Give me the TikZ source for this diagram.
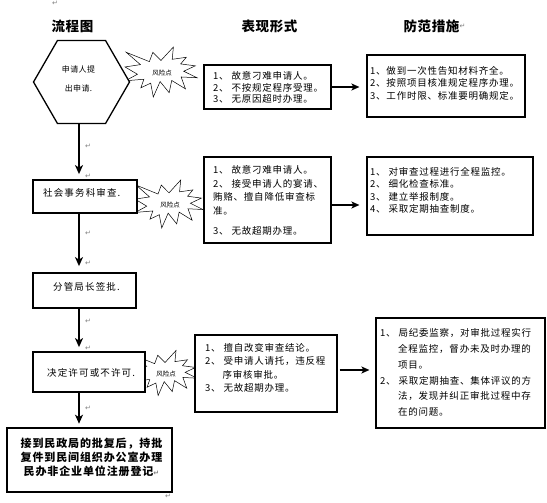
\documentclass[tikz,border=0pt]{standalone}
\usepackage{fontspec}
\newfontfamily\cjk{Noto Sans CJK SC}
\newfontfamily\symf{DejaVu Sans}
\usetikzlibrary{shapes.geometric,shadows,arrows.meta}
\newcommand\retm{{\symf\fontsize{7}{7}\selectfont\color{gray}↵}}
% explosion shape: name, cx, cy, w, h
\newcommand\boom[5]{%
  \begin{scope}[shift={(#2-#4/2,#3-#5/2)},x=#4/216*1pt,y=-#5/216*1pt]
  \draw[burstline] (108,58) -- (145.22,0) -- (141.55,53.25) -- (183.8,44.57) -- (167.02,73.15)
    -- (210.97,81.37) -- (176.07,104.75) -- (216,132.9) -- (168.37,129.42) -- (181.45,180.95)
    -- (140.2,144.57) -- (132.47,197.37) -- (105.32,149.35) -- (84.85,216) -- (77.15,156.27)
    -- (47.62,176.17) -- (56.67,139.37) -- (1.35,145.87) -- (37.22,117.75) -- (0,86.15)
    -- (46.27,76.17) -- (3.7,22.95) -- (73.12,63.2) -- (83.52,22.95) -- cycle;
  \end{scope}
  \node[bursttxt] (#1) at (#2+1,#3+1) {风险点};}
\begin{document}
\begin{tikzpicture}[x=1pt,y=-1pt,
 hdr/.style={font=\cjk\bfseries\fontsize{13.5}{15}\selectfont\addfontfeature{LetterSpace=4},inner sep=0pt},
 flowbox/.style={draw,line width=1.8pt,fill=white,inner sep=0pt},
 flowtxt/.style={font=\cjk\fontsize{9.5}{11}\selectfont\addfontfeature{LetterSpace=12},inner sep=0pt,anchor=west},
 riskbox/.style={draw,line width=1.2pt,fill=white,inner sep=0pt,
   drop shadow={shadow xshift=1.3pt,shadow yshift=-1.3pt,fill=black!75,opacity=1}},
 risktxt/.style={font=\cjk\fontsize{9.5}{#1}\selectfont\addfontfeature{LetterSpace=8},inner sep=0pt,anchor=west,align=left},
 burstline/.style={draw,line width=0.5pt,fill=white,line join=miter},
 bursttxt/.style={inner sep=0pt,font=\cjk\fontsize{6.5}{7}\selectfont},
 arr/.style={line width=1.6pt,-{Stealth[length=9pt,width=8pt,inset=2.5pt]}},
 harr/.style={line width=1.4pt,-{Stealth[length=8pt,width=7pt,inset=2pt]}},
 retmk/.style={font=\symf\fontsize{7}{7}\selectfont,text=gray,inner sep=0pt}
]
\useasboundingbox[fill=white] (0,0) rectangle (547,503);

% headers
\node[hdr] (h1) at (72.5,26) {流程图};
\node[hdr] (h2) at (269.5,26) {表现形式};
\node[hdr] (h3) at (431.5,26) {防范措施};
\node[retmk,anchor=west] (m0) at (h3.east) {↵};
\node[retmk] (m1) at (55,3) {↵};

% risk bursts
\boom{b1}{161}{72}{72}{50}
\boom{b2}{169}{204}{68}{48}
\boom{b3}{165}{373}{64}{45}

% flow column
\coordinate (col) at (79,0);
\node[regular polygon,regular polygon sides=6,minimum size=96pt,draw,line width=1.3pt,fill=white,inner sep=0pt] (hex) at (81.5,82) {};
\node[font=\cjk\fontsize{8}{19}\selectfont\addfontfeature{LetterSpace=5},align=center,inner sep=0pt] (hext) at (78.5,78.5) {申请人提\\出申请.};
\node[flowbox,minimum width=104pt,minimum height=33pt] (soc) at (85,196.5) {};
\node[flowtxt] (soct) at (43,193) {社会事务科审查.};
\node[flowbox,minimum width=103pt,minimum height=35pt] (app) at (84.5,290.5) {};
\node[flowtxt] (appt) at (53,287) {分管局长签批.};
\node[flowbox,minimum width=112pt,minimum height=40pt] (dec) at (89,372) {};
\node[flowtxt] (dect) at (47,373) {决定许可或不许可.};
\node[draw,line width=2.6pt,fill=white,minimum width=165pt,minimum height=64pt,inner sep=0pt] (fin) at (89.5,460) {};
\node[font=\cjk\bfseries\fontsize{11}{14}\selectfont\addfontfeature{LetterSpace=8},align=center,inner sep=0pt] (fint) at (91.5,457)
  {接到民政局的批复后，持批\\复件到民间组织办公室办理\\民办非企业单位注册登记\retm};

% risk boxes
\node[riskbox,minimum width=127pt,minimum height=44pt] (r1) at (267.5,87) {};
\node[risktxt=11.8] (r1t) at (213,87.5) {1、 故意刁难申请人。\\2、 不按规定程序受理。\\3、 无原因超时办理。};
\node[riskbox,minimum width=158pt,minimum height=62pt] (p1) at (446,86) {};
\node[risktxt=12.5] (p1t) at (370,83) {1、做到一次性告知材料齐全。\\2、按照项目核准规定程序办理。\\3、工作时限、标准要明确规定。};

\node[riskbox,minimum width=127pt,minimum height=86pt] (r2) at (267.5,200) {};
\node[risktxt=13.5] (r2t) at (213,200.5) {1、 故意刁难申请人。\\2、 接受申请人的宴请、\\贿赂、擅自降低审查标\\准。\\[6.5pt]3、 无故超期办理。};
\node[riskbox,minimum width=166pt,minimum height=78pt] (p2) at (450,196) {};
\node[risktxt=12.5] (p2t) at (370,190.5) {1、 对审查过程进行全程监控。\\2、 细化检查标准。\\3、 建立举报制度。\\4、 采取定期抽查制度。};

\node[riskbox,minimum width=142pt,minimum height=77pt] (r3) at (266,373.5) {};
\node[risktxt=13.3] (r3t) at (205,368) {1、 擅自改变审查结论。\\2、 受申请人请托，违反程\\\hspace*{17.5pt}序审核审批。\\3、 无故超期办理。};
\node[riskbox,minimum width=169pt,minimum height=110pt] (p3) at (460.5,373) {};
\node[risktxt=15.8] (p3t) at (380,372.5) {1、 局纪委监察，对审批过程实行\\\hspace*{18pt}全程监控，督办未及时办理的\\\hspace*{18pt}项目。\\2、 采取定期抽查、集体评议的方\\\hspace*{18pt}法，发现并纠正审批过程中存\\\hspace*{18pt}在的问题。};

% connectors
\draw[arr,shorten >=5pt] (hex.south -| col) -- (soc.north -| col);
\draw[arr,shorten >=6pt] (soc.south -| col) -- (app.north -| col);
\draw[arr,shorten >=4pt] (app.south -| col) -- (dec.north -| col);
\draw[arr,shorten >=3pt] (dec.south -| col) -- (fin.north -| col);
\draw[harr,shorten >=7pt] (r1.east) -- (r1.east -| p1.west);
\draw[harr,shorten >=7pt] ([yshift=-5pt]r2.east) -- ([yshift=-5pt]r2.east -| p2.west);
\draw[harr,shorten <=2pt,shorten >=6pt] ([yshift=3.5pt]r3.east) -- ([yshift=3.5pt]r3.east -| p3.west);

% paragraph marks
\node[retmk] (m2) at (88,146) {↵};
\node[retmk] (m3) at (88,176) {↵};
\node[retmk] (m4) at (88,233) {↵};
\node[retmk] (m5) at (88,263) {↵};
\node[retmk] (m6) at (88,321) {↵};
\node[retmk] (m7) at (88,348) {↵};
\node[retmk] (m8) at (88,408) {↵};
\node[retmk] (m9) at (168,496) {↵};
\end{tikzpicture}
\end{document}
